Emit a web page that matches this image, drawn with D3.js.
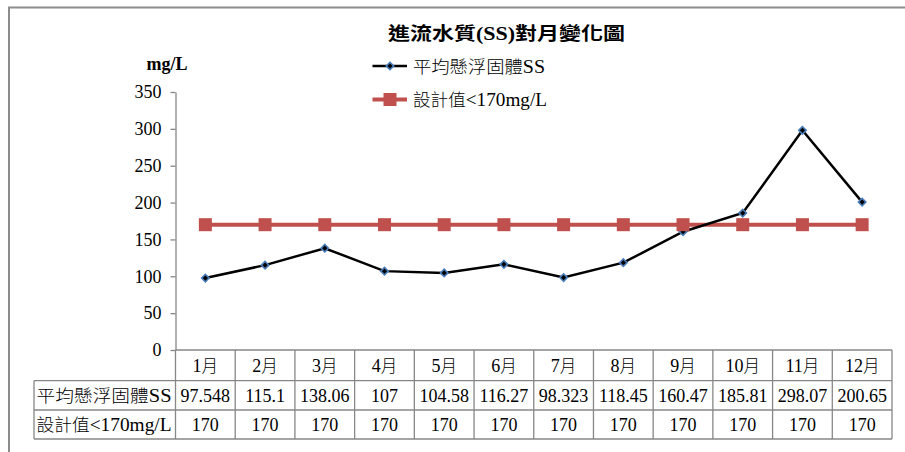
<!DOCTYPE html>
<html>
<head>
<meta charset="utf-8">
<script src="https://cdn.jsdelivr.net/npm/d3@7/dist/d3.min.js"></script>
<style>
  html, body { margin: 0; padding: 0; background: #fff; }
  svg { display: block; }
  text { font-family: "Liberation Serif", "Noto Sans CJK TC", serif; fill: #000; }
</style>
</head>
<body>
<svg id="chart" width="905" height="452"></svg>
<script>
// Monthly data
const months = ["1月","2月","3月","4月","5月","6月","7月","8月","9月","10月","11月","12月"];
const ssValues = [97.548, 115.1, 138.06, 107, 104.58, 116.27, 98.323, 118.45, 160.47, 185.81, 298.07, 200.65];
const designValues = [170, 170, 170, 170, 170, 170, 170, 170, 170, 170, 170, 170];
const ssLabels = ["97.548","115.1","138.06","107","104.58","116.27","98.323","118.45","160.47","185.81","298.07","200.65"];
const designLabels = ["170","170","170","170","170","170","170","170","170","170","170","170"];
const yTicks = [0, 50, 100, 150, 200, 250, 300, 350];
const seriesNames = ["平均懸浮固體SS", "設計值<170mg/L"];
const title = "進流水質(SS)對月變化圖";
const unit = "mg/L";

const svg = d3.select("#chart");
const gridColor = "#878787";
const blackLine = "#000000";
const blueEdge = "#4a7ebb";
const red = "#c0504d";

// Writes mixed CJK / Latin text, giving the CJK runs a lighter, smaller face
function mixedText(sel, str) {
  const runs = str.match(/[\u3000-\u9fff]+|[^\u3000-\u9fff]+/g) || [];
  runs.forEach(r => {
    const cjk = /[\u3000-\u9fff]/.test(r);
    sel.append("tspan")
      .attr("font-size", cjk ? 16.5 : null)
      .attr("font-weight", cjk ? 300 : null)
      .text(r);
  });
  return sel;
}

// Outer chart frame
svg.append("rect")
  .attr("x", 9).attr("y", 7.5).attr("width", 1000).attr("height", 1000)
  .attr("fill", "none").attr("stroke", "#8c8c8c").attr("stroke-width", 2);

const plotLeft = 175.5, plotRight = 892, plotTop = 92, plotBottom = 350;
const x = d3.scaleBand().domain(months).range([plotLeft, plotRight]);
const y = d3.scaleLinear().domain([0, 350]).range([plotBottom, plotTop]);
const cx = m => x(m) + x.bandwidth() / 2;

// Title and unit
svg.append("text").attr("x", 506.5).attr("y", 40).attr("text-anchor", "middle")
  .attr("font-size", 18).attr("font-weight", "bold")
  .attr("textLength", 237).attr("lengthAdjust", "spacingAndGlyphs").text(title);
svg.append("text").attr("x", 167).attr("y", 70).attr("text-anchor", "middle")
  .attr("font-size", 18).attr("font-weight", "bold").text(unit);

// Y axis
const yAxis = d3.axisLeft(y).tickValues(yTicks).tickSize(5).tickSizeOuter(0).tickPadding(9);
const gy = svg.append("g").attr("transform", `translate(${plotLeft},0)`).call(yAxis);
gy.selectAll("path, line").attr("stroke", gridColor).attr("stroke-width", 1.3);
gy.selectAll("text").attr("font-size", 18)
  .style("font-family", '"Liberation Serif", serif');

// Data table grid
const rowY = [plotBottom, 380.7, 410, 439];
const tableLeft = 34;
const grid = svg.append("g").attr("stroke", gridColor).attr("stroke-width", 1.3);
grid.append("line").attr("x1", plotLeft).attr("x2", plotRight).attr("y1", rowY[0]).attr("y2", rowY[0]);
rowY.slice(1).forEach(v => {
  grid.append("line").attr("x1", tableLeft).attr("x2", plotRight).attr("y1", v).attr("y2", v);
});
grid.append("line").attr("x1", tableLeft).attr("x2", tableLeft).attr("y1", rowY[1]).attr("y2", rowY[3]);
const colEdges = months.map(m => x(m)).concat([plotRight]);
colEdges.forEach(v => {
  grid.append("line").attr("x1", v).attr("x2", v).attr("y1", rowY[0]).attr("y2", rowY[3]);
});

// Table texts
const tableText = svg.append("g").attr("font-size", 18).attr("text-anchor", "middle");
tableText.selectAll(".mon").data(months).join("text")
  .attr("x", d => cx(d)).attr("y", 371.5)
  .each(function(d) { mixedText(d3.select(this), d); });
tableText.selectAll(".ss").data(months).join("text")
  .attr("x", d => cx(d)).attr("y", 401.5).text((d, i) => ssLabels[i]);
tableText.selectAll(".ds").data(months).join("text")
  .attr("x", d => cx(d)).attr("y", 431).text((d, i) => designLabels[i]);
mixedText(svg.append("text").attr("x", 36.5).attr("y", 401.5).attr("font-size", 18)
  .attr("textLength", 135).attr("lengthAdjust", "spacingAndGlyphs"), seriesNames[0]);
mixedText(svg.append("text").attr("x", 36.5).attr("y", 431).attr("font-size", 18)
  .attr("textLength", 135).attr("lengthAdjust", "spacingAndGlyphs"), seriesNames[1]);

// Series
const line = d3.line().x((d, i) => cx(months[i])).y(d => y(d));
svg.append("path").datum(designValues).attr("d", line)
  .attr("fill", "none").attr("stroke", red).attr("stroke-width", 4);
svg.append("path").datum(ssValues).attr("d", line)
  .attr("fill", "none").attr("stroke", blackLine).attr("stroke-width", 2.5);

const diamond = d3.symbol().type(d3.symbolSquare).size(28);
svg.selectAll(".ssm").data(ssValues).join("path")
  .attr("d", diamond())
  .attr("transform", (d, i) => `translate(${cx(months[i])},${y(d)}) rotate(45)`)
  .attr("fill", "#000").attr("stroke", blueEdge).attr("stroke-width", 1.6);

const sq = 13;
svg.selectAll(".dsm").data(designValues).join("rect")
  .attr("x", (d, i) => cx(months[i]) - sq / 2).attr("y", d => y(d) - sq / 2)
  .attr("width", sq).attr("height", sq).attr("fill", red);

// Legend
const lg = svg.append("g");
lg.append("line").attr("x1", 372.5).attr("x2", 407).attr("y1", 66).attr("y2", 66)
  .attr("stroke", blackLine).attr("stroke-width", 2.5);
lg.append("path").attr("d", diamond()).attr("transform", "translate(390,66) rotate(45)")
  .attr("fill", "#000").attr("stroke", blueEdge).attr("stroke-width", 1.6);
mixedText(lg.append("text").attr("x", 413).attr("y", 72.5).attr("font-size", 18)
  .attr("textLength", 132).attr("lengthAdjust", "spacingAndGlyphs"), seriesNames[0]);
lg.append("line").attr("x1", 372.5).attr("x2", 407).attr("y1", 99.5).attr("y2", 99.5)
  .attr("stroke", red).attr("stroke-width", 4);
lg.append("rect").attr("x", 390 - sq / 2).attr("y", 99.5 - sq / 2).attr("width", sq).attr("height", sq)
  .attr("fill", red);
mixedText(lg.append("text").attr("x", 413).attr("y", 106).attr("font-size", 18)
  .attr("textLength", 134).attr("lengthAdjust", "spacingAndGlyphs"), seriesNames[1]);
</script>
</body>
</html>
